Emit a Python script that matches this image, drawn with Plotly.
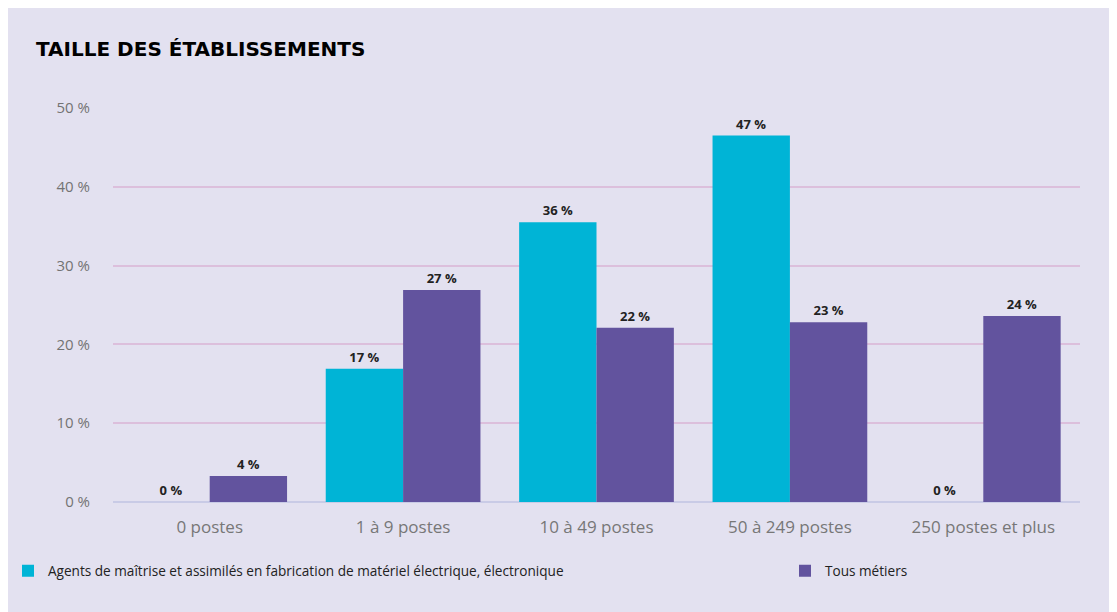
import plotly.graph_objects as go

categories = ["0 postes", "1 à 9 postes", "10 à 49 postes", "50 à 249 postes", "250 postes et plus"]
agents = [0, 16.9, 35.5, 46.5, 0]
tous = [3.3, 26.9, 22.1, 22.8, 23.6]
agents_labels = ["0 %", "17 %", "36 %", "47 %", "0 %"]
tous_labels = ["4 %", "27 %", "22 %", "23 %", "24 %"]
series_names = ["Agents de maîtrise et assimilés en fabrication de matériel électrique, électronique", "Tous métiers"]
y_ticks = [0, 10, 20, 30, 40, 50]
y_tick_labels = ["0 %", "10 %", "20 %", "30 %", "40 %", "50 %"]

W, H = 1109, 604
bg = "#e3e1f0"
label_font = dict(family="Open Sans", size=13, color="#222222", weight="bold")

fig = go.Figure()
fig.add_trace(go.Bar(
    x=categories, y=agents, name=series_names[0],
    marker=dict(color="#00b4d6", line=dict(width=0)),
    text=agents_labels, textposition="outside", textfont=label_font,
    cliponaxis=False, legend="legend",
))
fig.add_trace(go.Bar(
    x=categories, y=tous, name=series_names[1],
    marker=dict(color="#62539e", line=dict(width=0)),
    text=tous_labels, textposition="outside", textfont=label_font,
    cliponaxis=False, legend="legend2",
))

legend_common = dict(orientation="h", xref="container", xanchor="left",
                     y=1 - 563 / H, yref="container", yanchor="middle",
                     font=dict(family="Open Sans", size=13.6, color="#222222"),
                     itemwidth=30, bgcolor="rgba(0,0,0,0)")

fig.update_layout(
    width=W, height=H,
    paper_bgcolor=bg, plot_bgcolor=bg,
    margin=dict(l=105, r=37, t=100, b=110),
    barmode="group", bargap=0.2, bargroupgap=0,
    title=dict(text="<b>TAILLE DES ÉTABLISSEMENTS</b>", x=28 / W, xanchor="left",
               y=1 - 41 / H, yanchor="middle",
               font=dict(family="DejaVu Sans", size=20, color="#000000")),
    font=dict(family="Open Sans", color="#777777"),
    xaxis=dict(showgrid=False, tickfont=dict(size=17, color="#777777"), ticks="",
               showline=False, zeroline=False, ticklabelstandoff=13),
    yaxis=dict(range=[0, 50], tickvals=y_ticks, ticktext=y_tick_labels,
               tickfont=dict(size=15, color="#737373"),
               gridcolor="#dcbfdc", gridwidth=1.5, zeroline=True, zerolinecolor="#c9cbe6",
               zerolinewidth=2, showline=False, ticklabelstandoff=22),
    legend=dict(x=-4 / W, **legend_common),
    legend2=dict(x=777 / W, **legend_common),
    showlegend=True,
)

fig.write_html("out.html")
